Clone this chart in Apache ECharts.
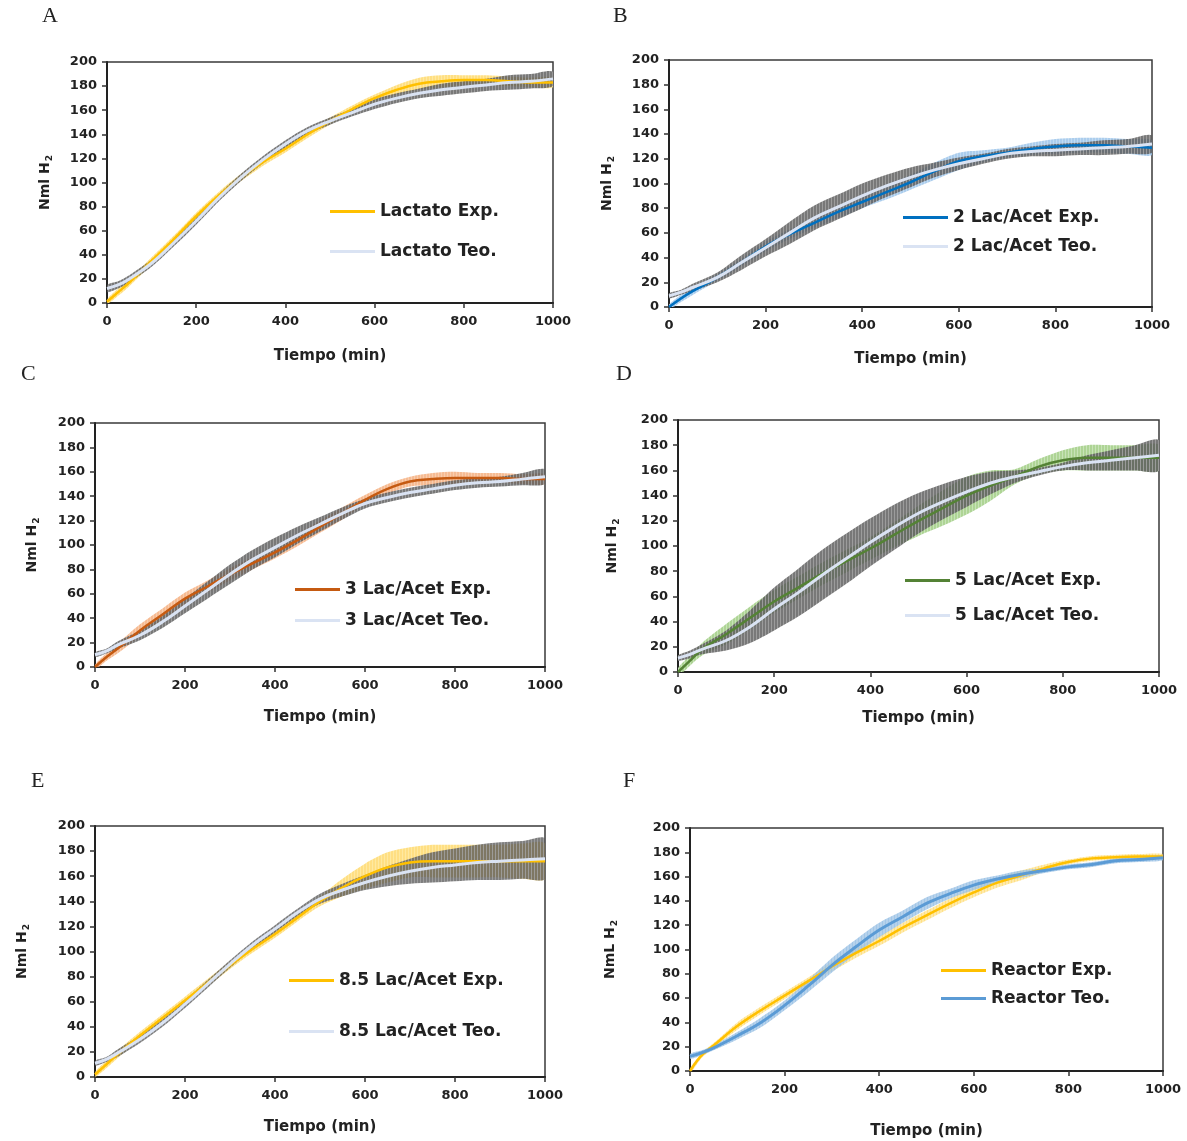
<!DOCTYPE html>
<html>
<head>
<meta charset="utf-8">
<script src="https://cdn.jsdelivr.net/npm/echarts@6/dist/echarts.min.js"></script>
<style>
html,body{margin:0;padding:0;background:#fff;}
#chart{width:1187px;height:1141px;}
</style>
</head>
<body>
<div id="chart"></div>
<script>
// ---------- DATA ----------
const times = [0, 25, 50, 100, 150, 200, 250, 300, 350, 400, 450, 500, 550, 600, 650, 700, 750, 800, 850, 900, 950, 1000];
const xTicks = [0, 200, 400, 600, 800, 1000];
const yTicks = [0, 20, 40, 60, 80, 100, 120, 140, 160, 180, 200];
const panelLetters = ['A', 'B', 'C', 'D', 'E', 'F'];
const expNames = ['Lactato Exp.', '2 Lac/Acet Exp.', '3 Lac/Acet Exp.', '5 Lac/Acet Exp.', '8.5 Lac/Acet Exp.', 'Reactor Exp.'];
const teoNames = ['Lactato Teo.', '2 Lac/Acet Teo.', '3 Lac/Acet Teo.', '5 Lac/Acet Teo.', '8.5 Lac/Acet Teo.', 'Reactor Teo.'];
const yNames = ['Nml H', 'Nml H', 'Nml H', 'Nml H', 'Nml H', 'NmL H'];
const xName = 'Tiempo (min)';

const expA    = [1, 9, 17, 35, 53, 72, 89, 104, 117, 128, 140, 151, 161, 170, 177, 182, 184, 185, 185, 184, 183, 183];
const expErrA = [2, 3, 3, 3, 3, 3, 3, 3, 3, 3, 3, 3, 3, 3, 4, 5, 5, 4, 4, 4, 4, 4];
const teoA    = [12, 15, 20, 33, 50, 68, 87, 104, 119, 132, 143, 151, 158, 165, 170, 174, 177, 179, 181, 183, 184, 186];
const teoErrA = [3, 3, 3, 3, 3, 3, 3, 3, 3, 3, 3, 3, 3, 4, 4, 4, 5, 5, 5, 6, 6, 6];

const expB    = [0, 7, 13, 24, 36, 49, 59, 68, 77, 85, 93, 101, 110, 118, 122, 125, 128, 130, 131, 131, 130, 129];
const expErrB = [2, 3, 3, 3, 3, 4, 4, 4, 5, 5, 6, 6, 7, 7, 5, 4, 5, 6, 6, 6, 6, 6];
const teoB    = [9, 12, 16, 24, 36, 48, 60, 72, 81, 90, 98, 105, 111, 116, 120, 124, 126, 127, 128, 129, 130, 132];
const teoErrB = [2, 2, 3, 4, 6, 7, 9, 10, 10, 10, 9, 8, 6, 5, 4, 4, 4, 5, 5, 6, 6, 7];

const expC    = [0, 8, 15, 30, 43, 56, 66, 76, 85, 94, 104, 115, 126, 137, 146, 152, 154, 155, 155, 155, 154, 154];
const expErrC = [2, 3, 4, 5, 5, 5, 5, 5, 5, 5, 5, 5, 5, 4, 4, 4, 5, 5, 4, 4, 4, 4];
const teoC    = [10, 13, 18, 26, 37, 50, 63, 76, 88, 98, 108, 117, 126, 134, 139, 143, 146, 149, 151, 152, 154, 156];
const teoErrC = [2, 2, 3, 4, 5, 6, 7, 8, 8, 8, 7, 6, 5, 4, 4, 4, 4, 4, 4, 4, 5, 6];

const expD    = [0, 9, 18, 30, 43, 56, 67, 78, 88, 98, 109, 120, 130, 140, 148, 155, 163, 168, 170, 170, 170, 170];
const expErrD = [3, 4, 5, 8, 9, 9, 9, 9, 9, 9, 10, 12, 14, 15, 12, 6, 6, 8, 10, 10, 10, 10];
const teoD    = [11, 14, 18, 25, 36, 50, 63, 77, 90, 103, 115, 126, 135, 143, 150, 155, 159, 163, 166, 168, 170, 172];
const teoErrD = [2, 3, 4, 8, 13, 17, 19, 20, 20, 19, 18, 16, 14, 12, 9, 5, 3, 3, 6, 8, 10, 12];

const expE    = [2, 10, 18, 33, 47, 61, 75, 89, 102, 114, 127, 140, 151, 160, 167, 171, 172, 172, 172, 172, 172, 172];
const expErrE = [2, 3, 3, 3, 3, 3, 3, 3, 3, 3, 3, 4, 7, 10, 12, 12, 13, 13, 13, 13, 14, 14];
const teoE    = [11, 14, 19, 30, 43, 58, 74, 90, 105, 118, 131, 142, 149, 155, 160, 164, 167, 169, 171, 172, 173, 174];
const teoErrE = [2, 2, 3, 3, 3, 3, 3, 3, 3, 3, 3, 4, 5, 6, 8, 10, 12, 13, 14, 15, 15, 16];

const expF    = [0, 13, 21, 37, 50, 62, 74, 86, 97, 107, 118, 128, 138, 147, 155, 161, 167, 172, 175, 176, 176.5, 176.6];
const expErrF = [2, 2, 2, 3, 3, 3, 3, 4, 4, 4, 4, 4, 4, 4, 4, 4, 3, 2, 2, 2, 2, 2];
const teoF    = [12, 15, 19, 29, 40, 54, 70, 87, 102, 116, 127, 138, 146, 153, 158, 162, 165, 168, 170, 173, 174, 175.5];
const teoErrF = [2, 2, 2, 3, 4, 4, 5, 6, 6, 6, 5, 5, 4, 4, 3, 3, 2, 2, 2, 2, 2, 2];

// ---------- STYLE / LAYOUT ----------
const FONT = 'DejaVu Sans';
const GREY_BAND = ['rgba(90,90,90,0.82)', 'rgba(165,165,165,0.82)'];
const panels = [
  {exp: expA, expErr: expErrA, teo: teoA, teoErr: teoErrA, grid: [107, 62, 446, 241], expColor: '#FFC000', expBand: ['rgba(255,212,90,0.75)', 'rgba(255,236,170,0.75)'], teoColor: '#DAE3F3', teoBand: GREY_BAND, legend: [325, 198, 23], xGap: 46, yGap: 53, letter: [42, 5]},
  {exp: expB, expErr: expErrB, teo: teoB, teoErr: teoErrB, grid: [669, 60, 483, 247], expColor: '#0070C0', expBand: ['rgba(150,192,232,0.8)', 'rgba(200,222,244,0.8)'], teoColor: '#DAE3F3', teoBand: GREY_BAND, legend: [898, 204, 12], xGap: 45, yGap: 53, letter: [613, 5]},
  {exp: expC, expErr: expErrC, teo: teoC, teoErr: teoErrC, grid: [95, 423, 450, 244], expColor: '#C55A11', expBand: ['rgba(244,170,120,0.8)', 'rgba(250,210,180,0.8)'], teoColor: '#DAE3F3', teoBand: GREY_BAND, legend: [290, 576, 14], xGap: 43, yGap: 54, letter: [21, 363]},
  {exp: expD, expErr: expErrD, teo: teoD, teoErr: teoErrD, grid: [678, 420, 481, 252], expColor: '#548235', expBand: ['rgba(160,205,130,0.85)', 'rgba(205,230,190,0.85)'], teoColor: '#DAE3F3', teoBand: GREY_BAND, legend: [900, 567, 18], xGap: 39, yGap: 57, letter: [616, 363]},
  {exp: expE, expErr: expErrE, teo: teoE, teoErr: teoErrE, grid: [95, 826, 450, 251], expColor: '#FFC000', expBand: ['rgba(255,212,90,0.75)', 'rgba(255,236,170,0.75)'], teoColor: '#DAE3F3', teoBand: ['rgba(90,90,90,0.78)', 'rgba(165,165,165,0.78)'], legend: [284, 967, 34], xGap: 43, yGap: 64, letter: [31, 770]},
  {exp: expF, expErr: expErrF, teo: teoF, teoErr: teoErrF, grid: [690, 828, 473, 243], expColor: '#FFC000', expBand: ['rgba(255,217,102,0.55)', 'rgba(255,217,102,0.55)'], teoColor: '#5B9BD5', teoBand: ['rgba(157,195,230,0.75)', 'rgba(157,195,230,0.75)'], legend: [936, 957, 11], xGap: 53, yGap: 71, letter: [623, 770]}
];

function hatch(base, stripe) {
  const c = document.createElement('canvas');
  c.width = 3; c.height = 4;
  const ctx = c.getContext('2d');
  ctx.fillStyle = base; ctx.fillRect(0, 0, 3, 4);
  ctx.fillStyle = stripe; ctx.fillRect(0, 0, 1, 4);
  return {image: c, repeat: 'repeat'};
}

const grids = [], xAxes = [], yAxes = [], legends = [], series = [], graphics = [];

// error band: polygon between (center - err) and (center + err), placed with the axis scales
function bandSeries(idx, center, err, fill) {
  series.push({
    type: 'custom', xAxisIndex: idx, yAxisIndex: idx, clip: true, silent: true,
    data: times.map((t, i) => [t, center[i] - err[i], center[i] + err[i]]),
    encode: {x: 0, y: [1, 2]},
    renderItem: function (params, api) {
      if (params.dataIndex !== 0) return null;
      const up = times.map((t, i) => api.coord([t, center[i] + err[i]]));
      const lo = times.map((t, i) => api.coord([t, center[i] - err[i]])).reverse();
      return {
        type: 'polygon',
        shape: {points: up.concat(lo), smooth: 0.3},
        style: {fill: fill, stroke: null}
      };
    }
  });
}

panels.forEach((p, i) => {
  const [gl, gt, gw, gh] = p.grid;
  grids.push({left: gl, top: gt, width: gw, height: gh, show: true, borderColor: '#3a3a3a', borderWidth: 1.5, backgroundColor: 'transparent'});
  xAxes.push({
    type: 'value', gridIndex: i, min: 0, max: 1000, interval: 200,
    name: xName, nameLocation: 'middle', nameGap: p.xGap,
    nameTextStyle: {fontFamily: FONT, fontWeight: 'bold', fontSize: 15, color: '#222'},
    axisLine: {show: true, onZero: false, lineStyle: {color: '#222', width: 2}},
    axisTick: {show: true, inside: false, length: 5, lineStyle: {color: '#333', width: 1.5}},
    axisLabel: {margin: 12, fontFamily: FONT, fontWeight: 'bold', fontSize: 13, color: '#222',
      customValues: xTicks, formatter: v => String(v)},
    splitLine: {show: false}
  });
  yAxes.push({
    type: 'value', gridIndex: i, min: 0, max: 200, interval: 20,
    name: yNames[i] + '{s|2}', nameLocation: 'middle', nameGap: p.yGap, nameRotate: 90,
    nameTextStyle: {fontFamily: FONT, fontWeight: 'bold', fontSize: 14, color: '#222',
      rich: {s: {fontFamily: FONT, fontWeight: 'bold', fontSize: 9, color: '#222', padding: [9, 0, 0, 1]}}},
    axisLine: {show: true, onZero: false, lineStyle: {color: '#222', width: 2}},
    axisTick: {show: true, inside: false, length: 5, lineStyle: {color: '#333', width: 1.5}},
    axisLabel: {margin: 10, fontFamily: FONT, fontWeight: 'bold', fontSize: 13, color: '#222',
      customValues: yTicks, formatter: v => String(v)},
    splitLine: {show: false}
  });

  bandSeries(i, p.exp, p.expErr, hatch(p.expBand[0], p.expBand[1]));
  bandSeries(i, p.teo, p.teoErr, hatch(p.teoBand[0], p.teoBand[1]));

  series.push({
    type: 'line', name: expNames[i], xAxisIndex: i, yAxisIndex: i,
    data: times.map((t, k) => [t, p.exp[k]]), smooth: 0.4, symbol: 'none',
    lineStyle: {color: p.expColor, width: 2.5}, itemStyle: {color: p.expColor}
  });
  series.push({
    type: 'line', name: teoNames[i], xAxisIndex: i, yAxisIndex: i,
    data: times.map((t, k) => [t, p.teo[k]]), smooth: 0.4, symbol: 'none',
    lineStyle: {color: p.teoColor, width: 3}, itemStyle: {color: p.teoColor}
  });

  legends.push({
    data: [expNames[i], teoNames[i]], orient: 'vertical',
    left: p.legend[0], top: p.legend[1], itemGap: p.legend[2],
    itemWidth: 45, itemHeight: 16, icon: 'path://M0,7L45,7L45,10L0,10Z',
    textStyle: {fontFamily: FONT, fontWeight: 'bold', fontSize: 17, color: '#222'},
    selectedMode: false
  });

  graphics.push({
    type: 'text', left: p.letter[0], top: p.letter[1],
    style: {text: panelLetters[i], font: '22px "Liberation Serif"', fill: '#222'}
  });
});

const chart = echarts.init(document.getElementById('chart'), null, {renderer: 'canvas'});
chart.setOption({
  animation: false,
  backgroundColor: '#fff',
  grid: grids, xAxis: xAxes, yAxis: yAxes, legend: legends, series: series,
  graphic: graphics
});
</script>
</body>
</html>
